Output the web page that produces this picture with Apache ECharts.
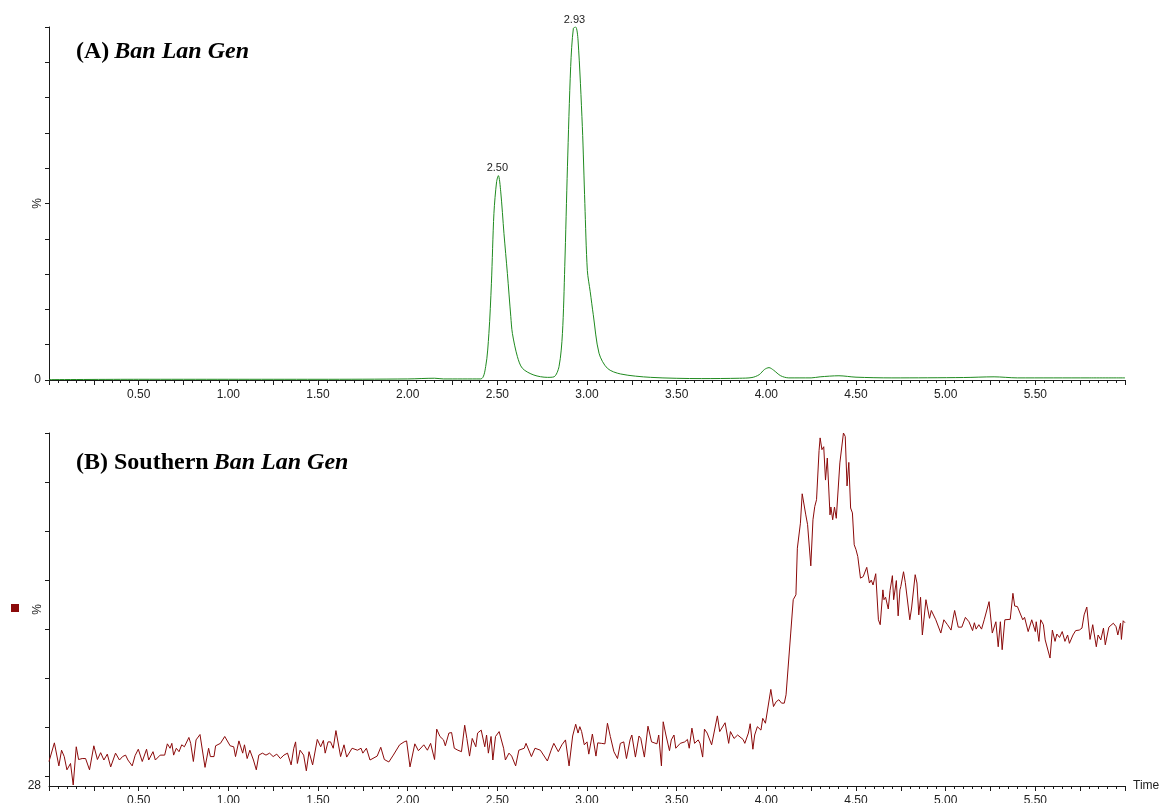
<!DOCTYPE html>
<html lang="en" style="height: 100%">
<head>
  <meta charset="utf-8">
  <style>
    body { margin: 0; background: #fff; }
  </style>
</head>
<body style="height: 100%; margin: 0">
  <div id="container" style="width: 1165px; height: 803px"></div>

  <script type="text/javascript" src="https://cdn.jsdelivr.net/npm/echarts@6/dist/echarts.min.js"></script>

  <script type="text/javascript">
// (A) Ban Lan Gen - [time (min), intensity %]
var traceA = [
  [0.00, 0.1], [0.50, 0.2], [1.00, 0.2], [1.50, 0.2], [2.00, 0.3], [2.15, 0.5], [2.20, 0.3],
  [2.407, 0.3], [2.435, 3.8], [2.453, 13.2], [2.467, 27.4], [2.481, 47.2], [2.496, 56.2],
  [2.506, 57.9], [2.519, 53.3], [2.537, 41.5], [2.556, 30.2], [2.575, 18.0], [2.584, 13.2],
  [2.612, 6.6], [2.64, 3.3], [2.704, 1.4], [2.779, 0.75], [2.816, 0.9], [2.844, 3.8],
  [2.863, 13.2], [2.876, 32.1], [2.891, 60.4], [2.909, 88.8], [2.924, 99.6], [2.937, 100],
  [2.95, 96.3], [2.974, 71.8], [2.988, 50.0], [3.002, 31.0], [3.018, 25.0], [3.035, 18.5],
  [3.067, 7.6], [3.114, 3.3], [3.188, 1.7], [3.355, 0.75], [3.64, 0.4], [3.85, 0.5],
  [3.92, 0.7], [3.96, 1.5], [3.99, 3.0], [4.015, 3.5], [4.04, 2.8], [4.08, 1.2], [4.125, 0.6],
  [4.25, 0.6], [4.30, 0.9], [4.405, 1.2], [4.50, 0.8], [4.70, 0.6], [5.10, 0.7], [5.27, 0.9],
  [5.40, 0.6], [5.80, 0.6], [6.00, 0.6]
];

// peaks labelled with retention time
var peaksA = [[2.50, 57.9], [2.93, 100]];

// (B) Southern Ban Lan Gen - [time (min), intensity %]
var traceB = [
  [0.00, 33.0], [0.03, 36.8], [0.055, 32.1], [0.07, 35.3], [0.085, 34.0], [0.10, 31.3], [0.12, 32.6],
  [0.135, 28.2], [0.152, 36.0], [0.165, 33.4], [0.185, 33.6], [0.204, 33.6], [0.226, 31.3], [0.25, 36.2],
  [0.27, 33.4], [0.288, 34.8], [0.306, 33.3], [0.325, 34.5], [0.344, 31.9], [0.371, 34.7], [0.393, 33.3],
  [0.41, 34.0], [0.427, 34.3], [0.44, 33.3], [0.464, 32.1], [0.48, 34.2], [0.498, 35.5], [0.52, 33.0],
  [0.544, 35.5], [0.556, 33.3], [0.58, 35.0], [0.593, 33.3], [0.62, 34.3], [0.645, 34.3], [0.66, 36.6],
  [0.675, 35.7], [0.685, 36.7], [0.695, 34.3], [0.71, 35.7], [0.725, 35.0], [0.74, 36.4], [0.755, 36.0],
  [0.78, 37.9], [0.79, 36.7], [0.805, 33.0], [0.82, 37.4], [0.842, 38.5], [0.87, 31.8], [0.89, 35.7],
  [0.90, 34.0], [0.92, 34.0], [0.929, 36.2], [0.956, 36.7], [0.98, 38.1], [1.01, 36.2], [1.03, 36.0],
  [1.04, 34.0], [1.059, 37.2], [1.08, 34.7], [1.09, 36.4], [1.105, 33.6], [1.12, 35.3], [1.14, 33.3],
  [1.156, 31.3], [1.17, 34.3], [1.19, 34.7], [1.21, 34.3], [1.23, 34.7], [1.25, 34.0], [1.27, 34.5],
  [1.29, 33.6], [1.31, 34.3], [1.33, 34.7], [1.35, 32.3], [1.365, 35.7], [1.375, 37.0], [1.385, 32.6],
  [1.40, 35.3], [1.42, 34.3], [1.435, 31.1], [1.45, 35.0], [1.47, 32.3], [1.48, 32.1], [1.496, 37.5],
  [1.515, 36.0], [1.53, 37.3], [1.54, 34.7], [1.556, 37.0], [1.57, 37.0], [1.585, 35.7], [1.60, 39.3],
  [1.626, 34.0], [1.645, 36.4], [1.66, 33.9], [1.69, 35.7], [1.72, 35.3], [1.74, 35.7], [1.75, 34.7],
  [1.77, 35.7], [1.79, 33.3], [1.83, 34.1], [1.85, 35.9], [1.87, 33.4], [1.895, 32.9], [1.92, 34.3],
  [1.955, 36.4], [1.98, 37.0], [1.994, 37.2], [2.013, 31.9], [2.04, 36.6], [2.06, 35.2], [2.07, 35.3],
  [2.09, 36.4], [2.11, 35.3], [2.128, 36.7], [2.15, 33.4], [2.162, 39.6], [2.18, 38.1], [2.20, 37.4],
  [2.21, 36.2], [2.23, 38.8], [2.245, 38.9], [2.26, 35.7], [2.28, 35.3], [2.30, 35.0], [2.318, 40.4],
  [2.33, 37.7], [2.345, 34.1], [2.36, 37.7], [2.38, 36.0], [2.39, 38.8], [2.41, 39.4], [2.42, 39.4],
  [2.43, 36.0], [2.44, 38.4], [2.45, 34.7], [2.465, 38.1], [2.475, 33.3], [2.49, 38.1], [2.51, 39.1],
  [2.52, 39.3], [2.535, 35.7], [2.545, 33.3], [2.565, 34.7], [2.58, 34.1], [2.602, 32.1], [2.62, 35.3],
  [2.63, 35.0], [2.65, 35.7], [2.66, 36.7], [2.69, 34.0], [2.71, 35.7], [2.74, 35.3], [2.75, 35.0],
  [2.779, 33.1], [2.80, 35.3], [2.815, 36.7], [2.84, 35.0], [2.86, 36.4], [2.88, 37.4], [2.90, 32.1],
  [2.92, 38.2], [2.937, 40.6], [2.95, 38.8], [2.96, 40.1], [2.97, 39.1], [2.985, 36.4], [3.00, 37.0],
  [3.01, 34.5], [3.03, 38.6], [3.05, 34.1], [3.06, 36.8], [3.08, 36.7], [3.10, 36.6], [3.114, 40.8],
  [3.13, 38.1], [3.15, 35.0], [3.17, 33.6], [3.186, 36.7], [3.205, 37.0], [3.22, 33.6], [3.24, 37.4],
  [3.25, 38.4], [3.27, 33.9], [3.29, 38.2], [3.30, 37.7], [3.32, 33.9], [3.34, 40.2], [3.36, 37.0],
  [3.39, 36.6], [3.40, 38.4], [3.415, 32.1], [3.425, 41.1], [3.44, 38.4], [3.46, 35.2], [3.47, 37.4],
  [3.485, 38.4], [3.495, 35.7], [3.52, 36.7], [3.545, 37.0], [3.56, 37.5], [3.57, 35.7], [3.585, 39.8],
  [3.60, 36.7], [3.62, 37.4], [3.63, 36.7], [3.645, 33.9], [3.655, 39.6], [3.67, 38.8], [3.695, 36.4],
  [3.727, 42.3], [3.74, 39.1], [3.77, 40.9], [3.79, 36.7], [3.80, 39.1], [3.82, 37.7], [3.84, 38.4],
  [3.87, 37.5], [3.88, 36.7], [3.90, 38.8], [3.91, 40.7], [3.925, 35.5], [3.935, 38.4], [3.95, 40.1],
  [3.97, 39.4], [3.98, 41.8], [3.995, 40.8], [4.025, 47.7], [4.04, 44.2], [4.055, 45.2], [4.07, 45.6],
  [4.085, 44.9], [4.10, 44.9], [4.11, 46.6], [4.12, 46.6], [4.136, 59.2], [4.15, 66.0], [4.165, 67.0],
  [4.173, 76.5], [4.19, 81.6], [4.20, 87.6], [4.22, 83.3], [4.23, 81.3], [4.248, 72.9], [4.26, 82.3],
  [4.27, 85.0], [4.28, 86.4], [4.294, 96.4], [4.30, 99.0], [4.31, 96.6], [4.32, 97.2], [4.33, 90.4],
  [4.34, 94.9], [4.355, 83.3], [4.36, 84.9], [4.37, 82.3], [4.38, 84.9], [4.39, 82.6], [4.41, 93.9],
  [4.42, 93.9], [4.43, 100], [4.44, 99.3], [4.45, 89.2], [4.46, 94.0], [4.47, 84.7], [4.48, 83.7],
  [4.49, 77.2], [4.50, 76.2], [4.51, 74.8], [4.525, 70.4], [4.54, 70.7], [4.56, 72.6], [4.575, 69.4],
  [4.585, 70.0], [4.595, 69.0], [4.61, 71.3], [4.625, 61.9], [4.635, 60.9], [4.65, 68.0], [4.656, 66.0],
  [4.665, 66.5], [4.68, 64.1], [4.69, 67.9], [4.703, 70.9], [4.71, 66.0], [4.725, 69.9], [4.735, 62.7],
  [4.745, 68.0], [4.75, 68.7], [4.765, 71.7], [4.775, 69.5], [4.785, 69.4], [4.80, 61.9], [4.81, 64.3],
  [4.82, 64.3], [4.83, 71.1], [4.84, 69.4], [4.85, 62.9], [4.86, 66.5], [4.87, 58.8], [4.89, 66.0],
  [4.90, 66.0], [4.91, 62.2], [4.92, 63.8], [4.945, 61.9], [4.973, 59.2], [4.99, 61.9], [5.01, 60.9],
  [5.03, 59.8], [5.04, 61.9], [5.05, 63.8], [5.06, 63.6], [5.07, 60.4], [5.09, 60.4], [5.11, 62.4],
  [5.13, 61.5], [5.15, 59.7], [5.16, 61.3], [5.17, 60.0], [5.185, 60.9], [5.20, 60.0], [5.215, 61.9],
  [5.242, 65.6], [5.26, 59.2], [5.27, 59.0], [5.28, 61.5], [5.293, 56.4], [5.305, 61.5], [5.315, 55.8],
  [5.33, 61.9], [5.34, 62.2], [5.36, 62.0], [5.375, 67.3], [5.385, 64.7], [5.40, 64.6], [5.43, 61.9],
  [5.44, 62.4], [5.46, 59.5], [5.48, 61.9], [5.50, 59.5], [5.505, 61.5], [5.52, 57.5], [5.53, 61.9],
  [5.545, 60.9], [5.555, 57.8], [5.582, 54.1], [5.595, 59.8], [5.61, 57.5], [5.62, 59.0], [5.635, 58.3],
  [5.65, 59.5], [5.665, 57.5], [5.68, 58.8], [5.69, 57.1], [5.71, 58.8], [5.725, 59.7], [5.745, 59.8],
  [5.76, 60.2], [5.772, 62.9], [5.787, 64.5], [5.805, 57.9], [5.82, 60.9], [5.84, 56.4], [5.85, 58.8],
  [5.865, 57.8], [5.88, 60.2], [5.89, 56.8], [5.91, 60.4], [5.92, 60.0], [5.935, 61.2], [5.95, 60.5],
  [5.96, 58.8], [5.975, 61.2], [5.98, 57.9], [5.99, 61.7], [6.00, 61.3]
];

var timeTicks = [0.50, 1.00, 1.50, 2.00, 2.50, 3.00, 3.50, 4.00, 4.50, 5.00, 5.50];
var yLabelsA = [0];
var yTicksB = [30, 40, 50, 60, 70, 80, 90, 100];
var yLabelsB = [28];

var dom = document.getElementById('container');
var myChart = echarts.init(dom, null, { renderer: 'canvas' });

var axisColor = '#1a1a1a';
var sans = 'Liberation Sans, Arial, sans-serif';
var serif = 'Liberation Serif, Times New Roman, serif';

function timeAxis(gridIndex, withName) {
  return {
    type: 'value',
    gridIndex: gridIndex,
    min: 0,
    max: 6,
    interval: 0.25,
    axisLine: { show: true, onZero: false, lineStyle: { color: axisColor, width: 1 } },
    axisTick: { show: true, length: 5, lineStyle: { color: axisColor } },
    minorTick: { show: true, splitNumber: 5, length: 3, lineStyle: { color: axisColor } },
    splitLine: { show: false },
    axisLabel: {
      customValues: timeTicks,
      formatter: function (v) { return v.toFixed(2); },
      color: '#222',
      fontFamily: sans,
      fontSize: 12,
      margin: 9
    },
    name: withName ? 'Time' : '',
    nameLocation: 'end',
    nameGap: 8,
    nameTextStyle: { color: '#222', fontFamily: sans, fontSize: 12, verticalAlign: 'middle' }
  };
}

function pctAxis(gridIndex, min, ticks, labels) {
  var axis = {
    type: 'value',
    gridIndex: gridIndex,
    min: min,
    max: 100,
    axisLine: { show: true, lineStyle: { color: axisColor, width: 1 } },
    axisTick: { show: true, length: 4, lineStyle: { color: axisColor } },
    splitLine: { show: false },
    axisLabel: { customValues: labels, color: '#222', fontFamily: sans, fontSize: 12, margin: 8, hideOverlap: false },
    name: '%',
    nameLocation: 'middle',
    nameRotate: 90,
    nameGap: 5,
    nameMoveOverlap: false,
    nameTextStyle: { color: '#222', fontFamily: sans, fontSize: 12 }
  };
  if (ticks) {
    axis.axisTick.customValues = ticks;
  } else {
    axis.interval = 10;
  }
  return axis;
}

var titleRich = {
  a: { fontFamily: serif, fontWeight: 'bold', fontSize: 24, color: '#000' },
  b: { fontFamily: serif, fontWeight: 'bold', fontStyle: 'italic', fontSize: 24, color: '#000' }
};

var option = {
  animation: false,
  backgroundColor: '#fff',
  title: [
    { left: 76, top: 40, padding: 0, text: '{a|(A)} {b|Ban Lan Gen}', textStyle: { rich: titleRich } },
    { left: 76, top: 451, padding: 0, text: '{a|(B) Southern} {b|Ban Lan Gen}', textStyle: { rich: titleRich } }
  ],
  legend: {
    data: ['Southern Ban Lan Gen'],
    left: 11, top: 604,
    padding: 0,
    icon: 'rect',
    itemWidth: 8, itemHeight: 8,
    formatter: function () { return ''; },
    selectedMode: false
  },
  grid: [
    { left: 49, top: 27, width: 1076, height: 353, outerBoundsMode: 'none' },
    { left: 49, top: 433, width: 1076, height: 353, outerBoundsMode: 'none' }
  ],
  xAxis: [timeAxis(0, false), timeAxis(1, true)],
  yAxis: [pctAxis(0, 0, null, yLabelsA), pctAxis(1, 28, yTicksB, yLabelsB)],
  series: [
    {
      name: 'Ban Lan Gen',
      type: 'line',
      xAxisIndex: 0, yAxisIndex: 0,
      data: traceA,
      showSymbol: false,
      smooth: 0.3,
      lineStyle: { color: '#1f8a1f', width: 1 },
      itemStyle: { color: '#1f8a1f' },
      markPoint: {
        symbol: 'circle', symbolSize: 0,
        label: {
          show: true, position: 'top', distance: 2,
          color: '#222', fontFamily: sans, fontSize: 11,
          formatter: function (p) { return p.data.coord[0].toFixed(2); }
        },
        data: peaksA.map(function (p) { return { coord: p }; })
      }
    },
    {
      name: 'Southern Ban Lan Gen',
      type: 'line',
      xAxisIndex: 1, yAxisIndex: 1,
      data: traceB,
      showSymbol: false,
      lineStyle: { color: '#8b0a0a', width: 1 },
      itemStyle: { color: '#8b0a0a' }
    }
  ]
};

myChart.setOption(option);
window.addEventListener('resize', myChart.resize);
  </script>
</body>
</html>
